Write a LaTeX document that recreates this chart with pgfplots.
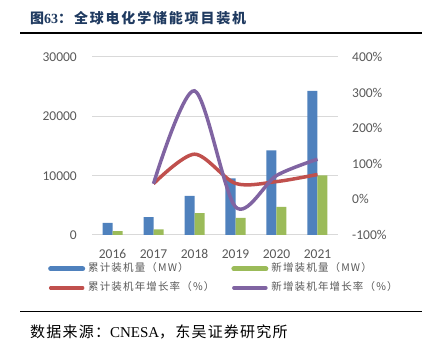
\documentclass[border=0pt]{standalone}
\usepackage{pgfplots}
\pgfplotsset{compat=1.18}
\usepackage{fontspec}
\setmainfont{Carlito}
\newfontfamily\cjk{Noto Sans CJK SC}
\newfontfamily\cjkls[LetterSpace=11]{Noto Sans CJK SC}
\newfontfamily\cjktitle[LetterSpace=13]{Noto Sans CJK SC}
\newfontfamily\cjksrc[LetterSpace=8]{Noto Sans CJK SC}
\newfontfamily\serif{Liberation Serif}
\definecolor{cblue}{HTML}{4F81BD}
\definecolor{cgreen}{HTML}{9BBB59}
\definecolor{cred}{HTML}{C0504D}
\definecolor{cpurple}{HTML}{8064A2}
\definecolor{tgray}{HTML}{595959}
\definecolor{ggray}{HTML}{D9D9D9}
\definecolor{navy}{HTML}{1F3A60}
\begin{document}
\begin{tikzpicture}
\useasboundingbox (0,0) rectangle (430bp,351bp);
\node[anchor=west, inner sep=0, text=navy] at (30bp,333bp) {\cjktitle\bfseries\fontsize{14bp}{16bp}\selectfont 图{\serif\bfseries 63}：全球电化学储能项目装机};
\draw[line width=1.5bp] (20bp,318bp) -- (422bp,318bp);
\draw[line width=1.5bp] (20bp,39.3bp) -- (422bp,39.3bp);
\node[anchor=west, inner sep=0] at (30bp,19.3bp) {\cjksrc\fontsize{15bp}{17bp}\selectfont 数据来源：{\serif CNESA}，东吴证券研究所};

\begin{axis}[
 at={(92bp,116bp)}, anchor=south west, scale only axis, width=246bp, height=178bp,
 xmin=-0.5, xmax=5.5, ymin=0, ymax=30000,
 scaled y ticks=false,
 axis line style={draw=none}, tick style={draw=none},
 ytick={0,10000,20000,30000}, yticklabels={0,10000,20000,30000},
 xtick={0,1,2,3,4,5}, xticklabels={2016,2017,2018,2019,2020,2021},
 ymajorgrids, major grid style={ggray, line width=1bp},
 ybar=0pt, bar width=10bp,
 tick label style={font=\fontsize{13.5bp}{15bp}\selectfont, text=tgray, inner sep=0pt},
 yticklabel style={xshift=-15bp},
 xticklabel style={yshift=-10bp},
]
\addplot[fill=cblue, draw=none] coordinates {(0,2050) (1,3000) (2,6600) (3,9550) (4,14250) (5,24300)};
\addplot[fill=cgreen, draw=none] coordinates {(0,650) (1,950) (2,3700) (3,2900) (4,4750) (5,10050)};
\end{axis}

\begin{axis}[
 at={(92bp,116bp)}, anchor=south west, scale only axis, width=246bp, height=178bp,
 xmin=-0.5, xmax=5.5, ymin=-100, ymax=400,
 axis x line=none, axis y line*=right, axis line style={draw=none}, tick style={draw=none},
 ytick={-100,0,100,200,300,400}, yticklabels={-100\%,0\%,100\%,200\%,300\%,400\%},
 yticklabel style={font=\fontsize{13.5bp}{15bp}\selectfont, text=tgray, inner sep=0pt, xshift=14bp},
 legend style={draw=none, fill=none, inner sep=0pt, at={(-0.179,-0.155)}, anchor=north west,
   font=\cjkls\fontsize{10.5bp}{12bp}\selectfont, text=tgray, cells={anchor=west},
   nodes={inner ysep=0pt, inner xsep=3bp, text height=9bp, text depth=3bp},
   row sep=7bp, /tikz/every even column/.append style={column sep=14bp}},
 legend columns=2,
 legend image code/.code={\draw[line cap=round, #1] (0bp,0bp) -- (32bp,0bp);},
]
\addlegendimage{line width=5bp, cblue, line cap=butt}
\addlegendentry{累计装机量（MW）}
\addlegendimage{line width=5bp, cgreen, line cap=butt}
\addlegendentry{新增装机量（MW）}
\addplot[cred, line width=3.5bp, smooth] coordinates {(1,44) (2,127) (3,45) (4,50) (5,70)};
\addlegendentry{累计装机年增长率（\%）}
\addplot[cpurple, line width=3.5bp, smooth] coordinates {(1,44) (2,305) (3,-21) (4,67) (5,113)};
\addlegendentry{新增装机年增长率（\%）}
\end{axis}
\end{tikzpicture}
\end{document}
